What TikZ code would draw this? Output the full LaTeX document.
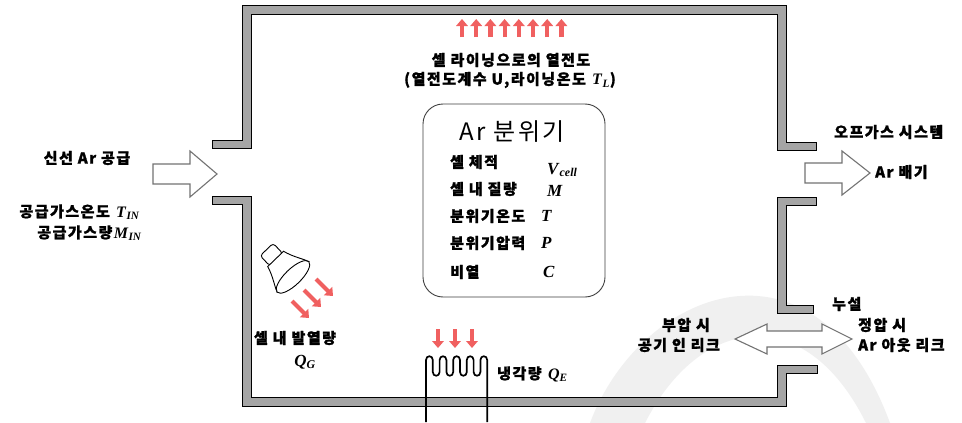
\documentclass[tikz,border=0pt]{standalone}
\usepackage{fontspec}
\setmainfont{Liberation Serif}
\newfontfamily\kr{Noto Sans CJK KR}[LetterSpace=10, BoldFeatures={FakeBold=1.2}]
\usetikzlibrary{arrows.meta}

\definecolor{heatred}{RGB}{240,96,96}
\definecolor{wallgray}{RGB}{165,165,165}

% bold italic symbol with subscript
\newcommand{\symb}[2]{\textbf{\textit{#1}}\textsubscript{\textbf{\textit{#2}}}}

\begin{document}
\begin{tikzpicture}
        [
        x=1pt, y=-1pt,
        wall/.style={draw=black, fill=wallgray, line width=1pt},
        flow/.style={draw=black!55, fill=white, line width=1.1pt, line join=miter},
        heat/.style={heatred, line width=4.2pt, -{Triangle[width=11.5pt,length=7pt]}},
        coil/.style={line width=1.7pt, line join=round},
        lbl/.style={font=\kr\bfseries\fontsize{15}{17}\selectfont, inner sep=0pt},
        item/.style={font=\kr\bfseries\fontsize{15}{17}\selectfont, inner sep=0pt, anchor=west},
        sym/.style={font=\fontsize{17}{18}\selectfont, inner sep=0pt, anchor=west}
        ]

        \useasboundingbox (0,0) rectangle (962,423);
        \fill[white] (0,0) rectangle (962,423);

        % faint arc in the lower right
        \fill[gray!12] (590,423) .. controls (640,290) and (815,220) .. (890,423)
            -- (866,423) .. controls (805,300) and (700,315) .. (645,423) -- cycle;

        % cell walls
        \draw[wall] (212,140) -- (242,140) -- (242,5) -- (786,5) -- (786,142) -- (816,142)
            -- (816,150) -- (777,150) -- (777,14) -- (251,14) -- (251,148) -- (212,148) -- cycle;
        \draw[wall] (212,196) -- (251,196) -- (251,397) -- (777,397) -- (777,365) -- (817,365)
            -- (817,373) -- (786,373) -- (786,406) -- (242,406) -- (242,204) -- (212,204) -- cycle;
        \draw[wall] (777,197) -- (816,197) -- (816,205) -- (786,205) -- (786,305) -- (813,305)
            -- (813,313) -- (777,313) -- cycle;

        % gas in, off-gas out, leak
        \draw[flow] (153,164) -- (190,164) -- (190,151) -- (217,174) -- (190,197) -- (190,184) -- (153,184) -- cycle;
        \draw[flow] (805,163) -- (842,163) -- (842,151) -- (870,173) -- (842,195) -- (842,183) -- (805,183) -- cycle;
        \draw[flow] (735,339) -- (767,324) -- (767,331) -- (822,331) -- (822,324) -- (852,339)
            -- (822,354) -- (822,347) -- (767,347) -- (767,354) -- cycle;

        % heat to the lining
        \foreach \i in {0,...,7}
            \draw[heat] (462+14.2*\i,37) -- (462+14.2*\i,19);

        \node[lbl] (lining) at (511,60) {셀 라이닝으로의 열전도};
        \node[lbl] (lining2) at (510,80) {(열전도계수 U,라이닝온도 {\normalfont\fontsize{16}{16}\selectfont\symb{T}{L}})};

        % atmosphere box
        \draw[line width=0.9pt, draw=black!75, rounded corners=20pt] (423,104) rectangle (605,297);
        \node[font=\kr\fontsize{24}{26}\selectfont, inner sep=0pt] (atmo) at (512,132) {Ar 분위기};

        \node[item] (vol)  at (450,162) {셀 체적};
        \node[item] (mass) at (450,189) {셀 내 질량};
        \node[item] (temp) at (450,216) {분위기온도};
        \node[item] (pres) at (450,243) {분위기압력};
        \node[item] (heatc) at (450,272) {비열};
        \node[sym] (vsym) at (547,170) {\symb{V}{cell}};
        \node[sym] (msym) at (547,191) {\textbf{\textit{M}}};
        \node[sym] (tsym) at (541,216) {\textbf{\textit{T}}};
        \node[sym] (psym) at (541,243) {\textbf{\textit{P}}};
        \node[sym] (csym) at (543,272) {\textbf{\textit{C}}};

        % inlet side
        \node[lbl] (inlet) at (87,158) {신선 Ar 공급};
        \node[lbl, anchor=east] (tin) at (140,212) {공급가스온도 {\normalfont\fontsize{16}{16}\selectfont\symb{T}{IN}}};
        \node[lbl, anchor=east] (min) at (142,233) {공급가스량{\normalfont\fontsize{16}{16}\selectfont\symb{M}{IN}}};

        % outlet side
        \node[lbl, anchor=west] (offgas) at (834,132) {오프가스 시스템};
        \node[lbl, anchor=west] (exhaust) at (875,172) {Ar 배기};
        \node[lbl, anchor=west] (leak) at (832,304) {누설};
        \node[lbl, anchor=east] (neg) at (710,325) {부압 시};
        \node[lbl, anchor=east] (neg2) at (720,345) {공기 인 리크};
        \node[lbl, anchor=west] (pos) at (858,325) {정압 시};
        \node[lbl, anchor=west] (pos2) at (858,345) {Ar 아웃 리크};

        % heater lamp
        \begin{scope}[shift={(268,251)}, rotate=-46]
            \draw[fill=white, line width=0.9pt, rounded corners=3pt] (-2,-9) rectangle (12,9);
            \draw[fill=white, line width=0.9pt] (11,-11) .. controls (22,-14) and (30,-20) .. (36,-22)
                -- (36,22) .. controls (30,20) and (22,14) .. (11,11) -- cycle;
            \draw[fill=white, line width=0.9pt] (36,0) ellipse [x radius=8, y radius=22];
        \end{scope}
        \draw[heat] (316,279) -- (333,296);
        \draw[heat] (304,290) -- (321,307);
        \draw[heat] (292,301) -- (309,318);
        \node[lbl] (gen) at (295,338) {셀 내 발열량};
        \node[sym, anchor=center] (qg) at (305,362) {\symb{Q}{G}};

        % cooling coil
        \foreach \x in {438,455,472}
            \draw[heat] (\x,329) -- (\x,348);
        \draw[coil] (426,422) -- (426,360)
            \foreach \a in {426,439.6,453.2,466.8} {
                .. controls (\a,355) and (\a+6.8,355) .. (\a+6.8,360) -- (\a+6.8,372)
                .. controls (\a+6.8,377) and (\a+13.6,377) .. (\a+13.6,372) -- (\a+13.6,360)
            }
            .. controls (480.4,355) and (487.2,355) .. (487.2,360) -- (487.2,422);
        \node[lbl, anchor=west] (cool) at (497,374) {냉각량 {\normalfont\fontsize{16}{16}\selectfont\symb{Q}{E}}};

    \end{tikzpicture}
\end{document}
